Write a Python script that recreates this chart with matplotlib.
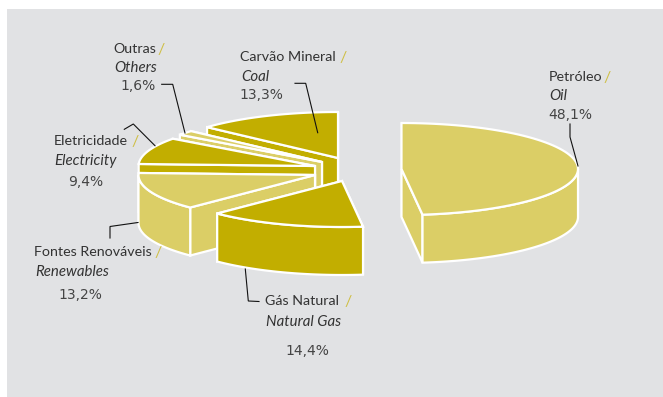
import numpy as np
import matplotlib
matplotlib.use('Agg')
import matplotlib.pyplot as plt
from matplotlib.patches import Polygon, Rectangle

# Slices, clockwise from 12 o'clock
names_pt = ['Petróleo', 'Gás Natural', 'Fontes Renováveis', 'Eletricidade', 'Outras', 'Carvão Mineral']
names_en = ['Oil', 'Natural Gas', 'Renewables', 'Electricity', 'Others', 'Coal']
shares = [48.1, 14.4, 13.2, 9.4, 1.6, 13.3]
share_labels = ['48,1%', '14,4%', '13,2%', '9,4%', '1,6%', '13,3%']

DARK = '#c2ae00'
LIGHT = '#dbce66'
slice_colors = [LIGHT, DARK, LIGHT, DARK, LIGHT, DARK]
# where each exploded slice has its tip (pixels)
centers = [(401.5, 169), (342, 181), (315, 175), (315, 166), (322, 162), (338, 158)]
# back slices first so the front ones cover them
draw_order = [5, 4, 3, 2, 1, 0]

RX, RY, DEPTH = 176.5, 46, 48
EDGE_LW = 1.6
TEXT_COL = '#333333'
SLASH_COL = '#cfbf45'

fig = plt.figure(figsize=(6.63, 3.97), dpi=100, facecolor='white')
ax = fig.add_axes([0, 0, 1, 1])
ax.set_xlim(0, 663)
ax.set_ylim(397, 0)
ax.axis('off')
ax.add_patch(Rectangle((7, 9), 660, 392, facecolor='#e1e2e4', edgecolor='none'))


def rim(cx, cy, a0, a1, drop=0):
    t = np.radians(np.linspace(a0, a1, 80))
    return np.column_stack([cx + RX * np.sin(t), cy - RY * np.cos(t) + drop])


def face(pts, color):
    ax.add_patch(Polygon(pts, closed=True, facecolor=color, edgecolor='white',
                         linewidth=EDGE_LW, joinstyle='miter'))


edges = np.concatenate([[0], np.cumsum(shares)]) / sum(shares) * 360

for i in draw_order:
    cx, cy = centers[i]
    a0, a1 = edges[i], edges[i + 1]
    col = slice_colors[i]
    # cut faces, the one that looks away from us goes first
    for a in (a1, a0) if i else (a0, a1):
        p = rim(cx, cy, a, a)[0]
        face([(cx, cy), p, (p[0], p[1] + DEPTH), (cx, cy + DEPTH)], col)
    # outer wall, only the part turned to the viewer
    f0, f1 = max(a0, 90), min(a1, 270)
    if f1 > f0:
        face(np.vstack([rim(cx, cy, f0, f1), rim(cx, cy, f1, f0, DEPTH)]), col)
    # top
    face(np.vstack([[(cx, cy)], rim(cx, cy, a0, a1)]), col)

# leader lines
leaders = [
    [(570, 124), (570, 137), (578, 166)],
    [(245.3, 269), (248.3, 301), (259, 301.5)],
    [(110, 238), (110, 226.5), (138, 222.5)],
    [(124.3, 129.3), (133.3, 124), (155, 145.7)],
    [(161.7, 84.3), (172.7, 84.3), (185, 133)],
    [(295, 83.3), (305.7, 83.3), (317.7, 132.7)],
]
for line in leaders:
    xs, ys = zip(*line)
    ax.plot(xs, ys, color='#111111', lw=0.8, solid_joinstyle='miter')

# left x / baseline of the three text rows, and x of the slash
label_pos = [
    (549, 81, 549, 100, 548, 119, 607),
    (265, 305, 266, 326, 285, 355, 348),
    (34, 256, 35, 276, 58, 299, 158),
    (54, 145, 54.5, 165, 68, 186, 135),
    (113, 53, 114, 72, 120, 90, 161.5),
    (240, 61, 241, 81, 239, 99, 343),
]
for i, (x1, y1, x2, y2, x3, y3, xs) in enumerate(label_pos):
    ax.text(x1, y1, names_pt[i], family='Lato', fontsize=10.3, color=TEXT_COL, va='baseline')
    ax.text(xs, y1 + 1, '/', family='Lato', fontsize=11.5, color=SLASH_COL,
            ha='center', va='baseline')
    ax.text(x2, y2, names_en[i], family='Lato', fontsize=10.8, style='italic', color=TEXT_COL, va='baseline')
    ax.text(x3, y3, share_labels[i], family='DejaVu Sans', fontsize=10, color='#444444', va='baseline')

fig.savefig('out.png', dpi=100, facecolor='white')
